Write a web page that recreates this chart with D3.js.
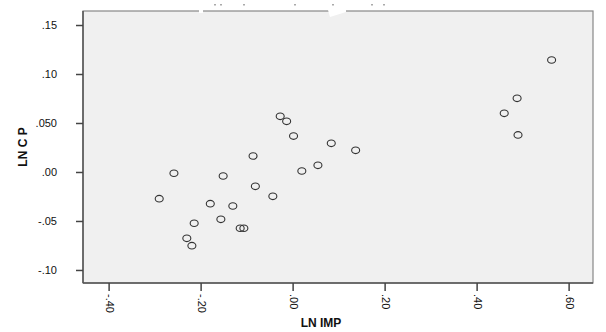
<!DOCTYPE html>
<html>
<head>
<meta charset="utf-8">
<script src="https://cdn.jsdelivr.net/npm/d3@7"></script>
<style>
body { margin: 0; background: #fff; }
text { font-family: "Liberation Sans", Arial, sans-serif; }
</style>
</head>
<body>
<svg></svg>
<script>
var w = 606, h = 332

// LN IMP (x) and LN C P (y)
var lnImp = [0.563, 0.488, 0.460, 0.490, -0.027, -0.013, 0.002, 0.084, 0.137,
             -0.086, -0.258, -0.151, 0.020, 0.055, -0.081, -0.043, -0.290,
             -0.179, -0.130, -0.214, -0.156, -0.114, -0.106, -0.230, -0.219]
var lnCp = [0.1143, 0.0752, 0.0599, 0.0378, 0.0568, 0.0517, 0.0367, 0.0293, 0.0221,
            0.0163, -0.0013, -0.0041, 0.0010, 0.0068, -0.0146, -0.0248, -0.0272,
            -0.0323, -0.0347, -0.0523, -0.0483, -0.0574, -0.0574, -0.0677, -0.0752]

var xTicks = [-0.4, -0.2, 0, 0.2, 0.4, 0.6]
var xTickLabels = ["-.40", "-.20", ".00", ".20", ".40", ".60"]
var yTicks = [0.15, 0.10, 0.05, 0, -0.05, -0.10]
var yTickLabels = [".15", ".10", ".050", ".00", "-.05", "-.10"]

var xTitle = "LN IMP"
var yTitle = "LN C P"

var plot = { left: 83, right: 593, top: 11, bottom: 283 }

var svg = d3.select("svg")
    .attr("width", w)
    .attr("height", h)

var x = d3.scaleLinear()
    .domain([-0.4557, 0.653])
    .range([plot.left, plot.right])
var y = d3.scaleLinear()
    .domain([-0.1133, 0.1643])
    .range([plot.bottom, plot.top])

// plot background
svg.append("rect")
    .attr("x", plot.left)
    .attr("y", plot.top)
    .attr("width", plot.right - plot.left)
    .attr("height", plot.bottom - plot.top)
    .attr("fill", "#f0f0f0")
    .attr("stroke", "#888")
    .attr("stroke-width", 1.2)

// y axis
var yAxis = svg.append("g")
    .attr("transform", "translate(" + plot.left + ",0)")
    .call(d3.axisLeft(y)
        .tickValues(yTicks)
        .tickFormat(function(d, i) { return yTickLabels[i] })
        .tickSize(7)
        .tickPadding(19))
yAxis.select(".domain")
    .attr("stroke", "#555")
    .attr("stroke-width", 1.5)
    .attr("d", "M0," + plot.top + "V" + plot.bottom)
yAxis.selectAll(".tick line")
    .attr("stroke", "#444")
    .attr("stroke-width", 1.5)
yAxis.selectAll(".tick text")
    .attr("fill", "#111")
    .style("font-size", "11px")

// x axis
var xAxis = svg.append("g")
    .attr("transform", "translate(0," + plot.bottom + ")")
    .call(d3.axisBottom(x)
        .tickValues(xTicks)
        .tickFormat(function(d, i) { return xTickLabels[i] })
        .tickSize(8))
xAxis.select(".domain")
    .attr("stroke", "#555")
    .attr("stroke-width", 1.5)
    .attr("d", "M" + plot.left + ",0H" + plot.right)
xAxis.selectAll(".tick line")
    .attr("stroke", "#444")
    .attr("stroke-width", 1.5)
xAxis.selectAll(".tick text")
    .attr("fill", "#111")
    .style("font-size", "11px")
    .attr("text-anchor", "start")
    .attr("dy", "0.35em")
    .attr("y", 0)
    .attr("transform", "translate(1,11) rotate(90)")

// axis titles
svg.append("text")
    .attr("x", 321)
    .attr("y", 327)
    .attr("text-anchor", "middle")
    .attr("font-weight", "bold")
    .attr("font-size", "12px")
    .attr("fill", "#111")
    .text(xTitle)
svg.append("text")
    .attr("transform", "translate(27," + ((plot.top + plot.bottom) / 2) + ") rotate(-90)")
    .attr("text-anchor", "middle")
    .attr("font-weight", "bold")
    .attr("font-size", "12px")
    .attr("fill", "#111")
    .text(yTitle)

// points
svg.append("g")
    .selectAll("ellipse")
    .data(lnImp)
    .join("ellipse")
        .attr("cx", function(d) { return x(d) })
        .attr("cy", function(d, i) { return y(lnCp[i]) })
        .attr("rx", 4)
        .attr("ry", 3.3)
        .attr("fill", "none")
        .attr("stroke", "#333")
        .attr("stroke-width", 1.1)

// leftovers of a cropped title over the top edge
svg.append("rect")
    .attr("x", 199).attr("y", 9).attr("width", 4).attr("height", 4)
    .attr("fill", "#fff")
svg.append("path")
    .attr("d", "M328,10 L346,10 L346,12 L330,17 Z")
    .attr("fill", "#fff")
var specks = [214, 220, 243, 294, 332, 371, 383]
svg.append("g")
    .selectAll("rect")
    .data(specks)
    .join("rect")
        .attr("x", function(d) { return d })
        .attr("y", 4)
        .attr("width", 2)
        .attr("height", 1.5)
        .attr("fill", "#aaa")
</script>
</body>
</html>
